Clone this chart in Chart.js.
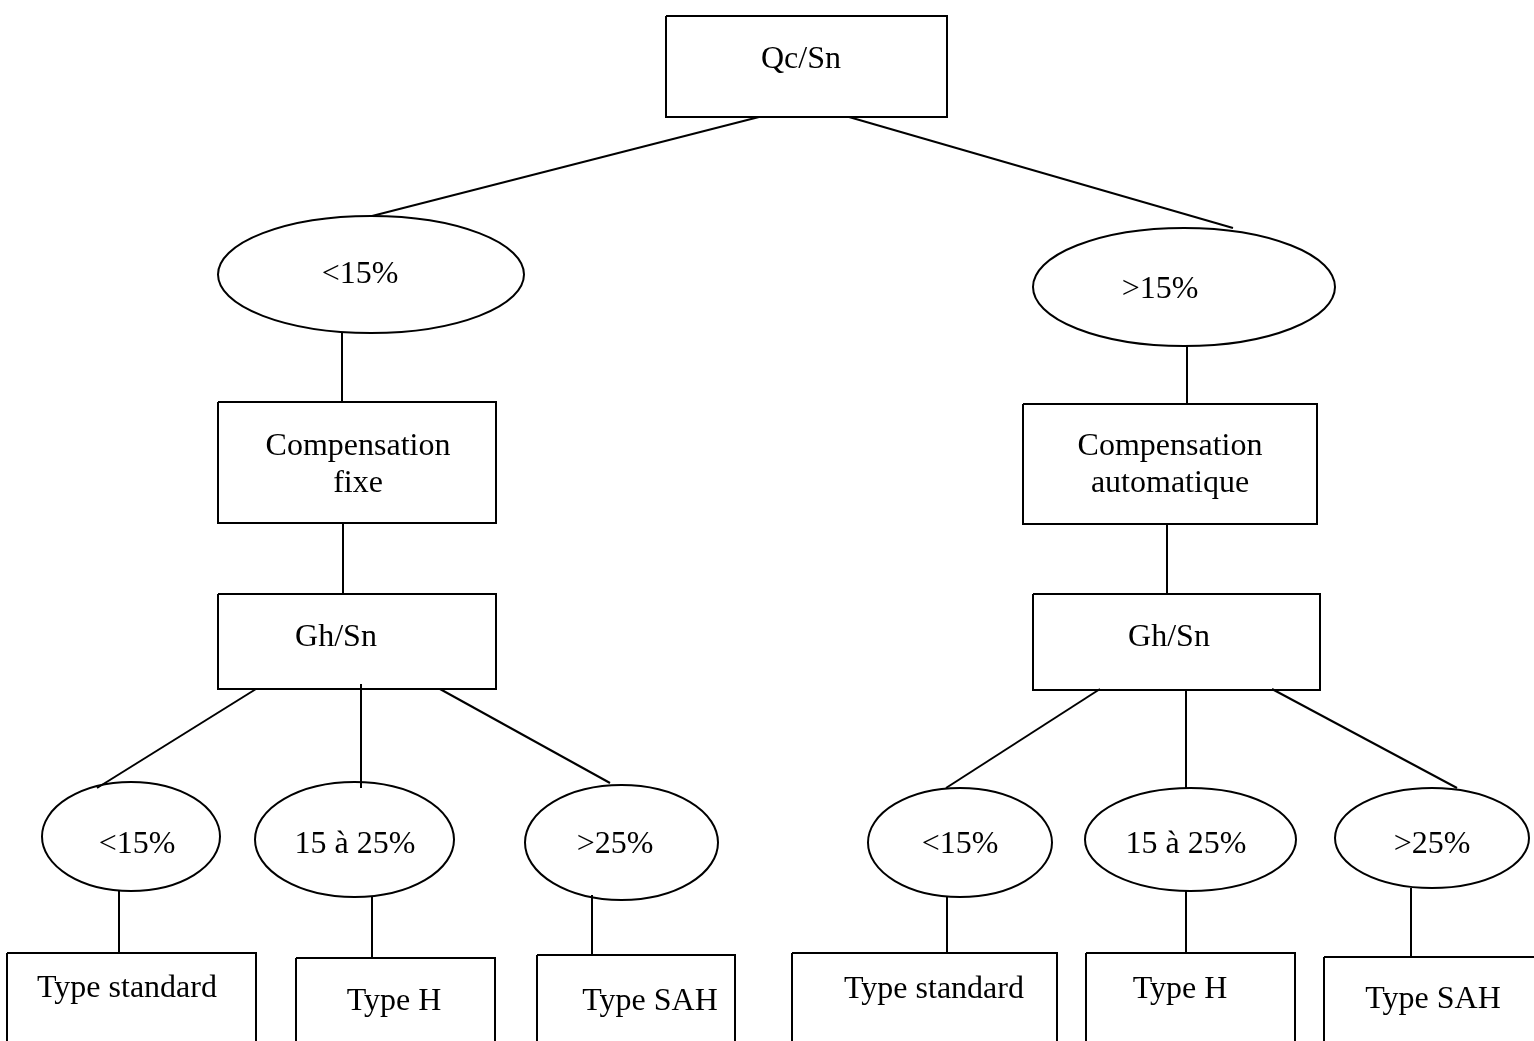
<!DOCTYPE html>
<html>
<head>
<meta charset="utf-8">
<script src="https://cdn.jsdelivr.net/npm/chart.js@4"></script>
<style>
html,body{margin:0;padding:0;background:#fff;}
#wrap{width:1534px;height:1041px;}
canvas{display:block;}
</style>
</head>
<body>
<div id="wrap"><canvas id="c" width="1534" height="1041"></canvas></div>
<script>
// ---- Diagram data (in diagram units, axis 0..1534 x 0..1041) ----
const nodeLabels = [
  ["Qc/Sn"],
  ["<15%"], [">15%"],
  ["Compensation", "fixe"], ["Compensation", "automatique"],
  ["Gh/Sn"], ["Gh/Sn"],
  ["<15%"], ["15 à 25%"], [">25%"],
  ["<15%"], ["15 à 25%"], [">25%"],
  ["Type standard"], ["Type H"], ["Type SAH"],
  ["Type standard"], ["Type H"], ["Type SAH"]
];
const nodeShapes = [
  "box",
  "ellipse", "ellipse",
  "box", "box",
  "box", "box",
  "ellipse", "ellipse", "ellipse",
  "ellipse", "ellipse", "ellipse",
  "box", "box", "box",
  "box", "box", "box"
];
const nodeLeft   = [666, 218, 1033, 218, 1023, 218, 1033,  42, 255, 525,  868, 1085, 1335,   7, 296, 537,  792, 1086, 1324];
const nodeRight  = [947, 524, 1335, 496, 1317, 496, 1320, 220, 454, 718, 1052, 1296, 1529, 256, 495, 735, 1057, 1295, 1545];
const nodeTop    = [ 16, 216,  228, 402,  404, 594,  594, 782, 782, 785,  788,  788,  788, 953, 958, 955,  953,  953,  957];
const nodeBottom = [117, 333,  346, 523,  524, 689,  690, 891, 897, 900,  897,  891,  888, 1060, 1060, 1060, 1060, 1060, 1060];
const labelX        = [801, 360, 1160, 358, 1170, 336, 1169, 137, 355, 615, 960, 1186, 1432, 127, 394, 650, 934, 1180, 1433];
const labelBaseline = [[68], [283], [298], [455, 492], [455, 492], [646], [646], [853], [853], [853], [853], [853], [853], [997], [1010], [1010], [998], [998], [1008]];

const edgeX1 = [759, 849, 342, 1187, 343, 1167, 256, 361, 440, 1100, 1186, 1272, 119, 372, 592, 947, 1186, 1411];
const edgeY1 = [117, 117, 333,  346, 523,  524, 689, 684, 689,  689,  689,  689, 891, 897, 895, 897,  891,  888];
const edgeX2 = [372, 1233, 342, 1187, 343, 1167,  97, 361, 610,  946, 1186, 1457, 119, 372, 592, 947, 1186, 1411];
const edgeY2 = [216, 228, 402,  404, 594,  594, 788, 788, 783,  788,  788,  788, 953, 958, 955, 953,  953,  957];

// ---- Build datasets ----
const datasets = [];
edgeX1.forEach((x, i) => {
  datasets.push({
    data: [{x: x, y: edgeY1[i]}, {x: edgeX2[i], y: edgeY2[i]}],
    showLine: true, borderColor: "#000", borderWidth: 2, pointRadius: 0, fill: false
  });
});
nodeShapes.forEach((s, i) => {
  if (s !== "box") return;
  const l = nodeLeft[i], r = nodeRight[i], t = nodeTop[i], b = nodeBottom[i];
  datasets.push({
    data: [{x: l, y: t}, {x: r, y: t}, {x: r, y: b}, {x: l, y: b}, {x: l, y: t}],
    showLine: true, borderColor: "#000", borderWidth: 2, pointRadius: 0,
    borderJoinStyle: "miter", fill: false
  });
});

const diagramPlugin = {
  id: "diagram",
  afterDatasetsDraw(chart) {
    const ctx = chart.ctx;
    const xs = chart.scales.x, ys = chart.scales.y;
    ctx.save();
    // ellipses
    nodeShapes.forEach((s, i) => {
      if (s !== "ellipse") return;
      const x1 = xs.getPixelForValue(nodeLeft[i]), x2 = xs.getPixelForValue(nodeRight[i]);
      const y1 = ys.getPixelForValue(nodeTop[i]), y2 = ys.getPixelForValue(nodeBottom[i]);
      ctx.beginPath();
      ctx.ellipse((x1 + x2) / 2, (y1 + y2) / 2, Math.abs(x2 - x1) / 2, Math.abs(y2 - y1) / 2, 0, 0, Math.PI * 2);
      ctx.lineWidth = 2;
      ctx.strokeStyle = "#000";
      ctx.stroke();
    });
    // labels
    ctx.fillStyle = "#000";
    ctx.font = "32px 'Liberation Serif', 'Times New Roman', serif";
    ctx.textAlign = "center";
    ctx.textBaseline = "alphabetic";
    nodeLabels.forEach((lines, i) => {
      lines.forEach((txt, j) => {
        ctx.fillText(txt, xs.getPixelForValue(labelX[i]), ys.getPixelForValue(labelBaseline[i][j]));
      });
    });
    ctx.restore();
  }
};

new Chart(document.getElementById("c"), {
  type: "scatter",
  data: { datasets: datasets },
  options: {
    responsive: false,
    animation: false,
    devicePixelRatio: 1,
    layout: { padding: 0 },
    plugins: { legend: { display: false }, tooltip: { enabled: false } },
    scales: {
      x: { type: "linear", min: 0, max: 1534, display: false },
      y: { type: "linear", min: 0, max: 1041, reverse: true, display: false }
    }
  },
  plugins: [diagramPlugin]
});
</script>
</body>
</html>
